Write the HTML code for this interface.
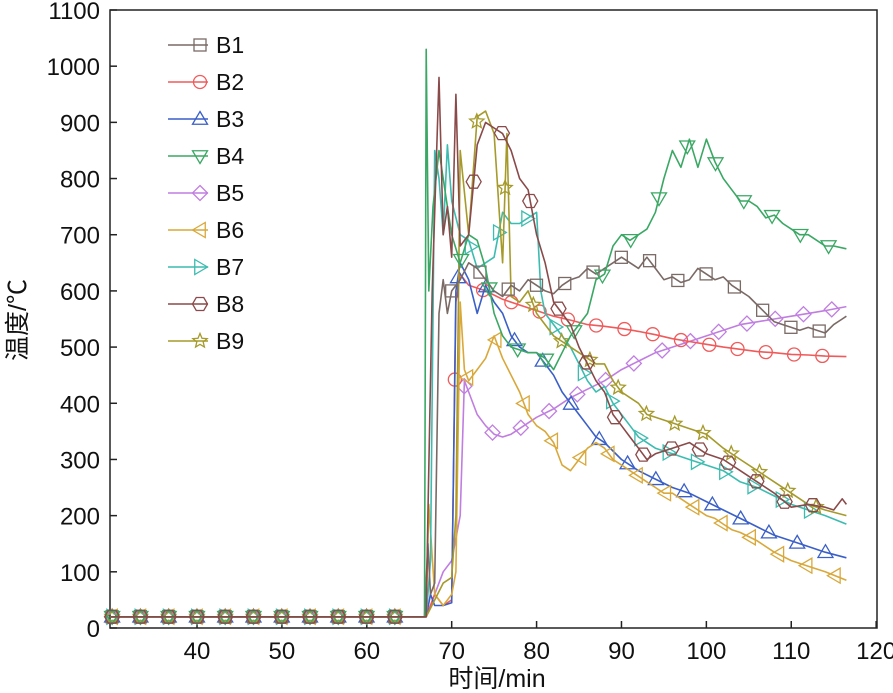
<!DOCTYPE html>
<html><head><meta charset="utf-8"><style>
body{margin:0;background:#fff;}
svg{display:block;font-family:"Liberation Sans","Noto Sans CJK SC",sans-serif;}
</style></head><body>
<svg id="chart" width="893" height="693" viewBox="0 0 893 693"></svg>
<script>
const xTicks=[40,50,60,70,80,90,100,110,120];
const yTicks=[0,100,200,300,400,500,600,700,800,900,1000,1100];
const seriesNames=["B1","B2","B3","B4","B5","B6","B7","B8","B9"];
const seriesColors=["#7a6a66","#f05a5a","#3a5fc8","#3aa864","#c07ee0","#d9a83a","#3cbcb0","#8a4a4a","#a59a2a"];
const seriesMarkers=["square","circle","tri-up","tri-down","diamond","tri-left","tri-right","hexagon","star"];
const preTimes=[29.8,66.8];
const preValues=[20,20];
const b1Times=[67.2,67.5,68,68.5,69,69.5,70,71,72,73,74,75,76,77,78,79,80,81,82,83,84,85,86,87,88,89,90,91,92,93,94,95,96,97,98,99,100,101,102,103,104,105,106,107,108,109,110,111,112,113,114,115,116,116.5];
const b1Values=[150,60,80,560,620,560,600,620,650,640,620,600,590,610,600,620,610,600,595,610,620,625,640,630,640,650,660,650,640,660,640,620,625,615,620,640,630,620,625,610,600,590,575,560,545,540,535,530,535,530,525,540,550,555];
const b2Times=[67,68,69,70,70.5,71,72,74,76,78,80,82,84,86,88,90,92,94,96,98,100,102,104,106,108,110,112,114,116.5];
const b2Values=[20,60,40,50,580,630,610,600,585,575,565,555,548,540,537,533,528,522,515,510,505,500,496,492,490,487,486,484,483];
const b3Times=[67,67.5,68,69,70,70.5,71,72,73,74,75,76,77,78,79,80,81,82,83,84,85,86,87,88,89,90,91,92,94,96,98,100,102,104,106,108,110,112,114,116.5];
const b3Values=[20,60,40,40,45,600,650,620,560,610,580,560,520,500,490,490,470,450,420,400,380,360,340,330,315,300,290,280,265,250,240,225,210,195,180,165,155,145,135,125];
const b4Times=[67,67.3,67.8,68.5,69,69.5,70,71,72,73,74,75,76,77,78,79,80,81,82,83,84,85,86,86.5,87,88,89,90,91,92,93,94,95,96,97,98,99,100,101,102,103,104,105,106,107,108,109,110,111,112,113,114,115,116.5];
const b4Values=[1030,600,750,850,800,750,700,650,700,690,640,560,520,500,495,490,490,480,460,490,520,540,560,590,620,630,680,700,690,700,710,740,800,850,820,870,820,870,830,800,780,760,760,750,730,735,720,710,700,700,690,680,680,675];
const b5Times=[67,69,70,71,71.5,72,73,74,75,76,77,78,79,80,82,84,86,88,90,92,94,96,98,100,102,104,106,108,110,112,114,116.5];
const b5Values=[20,100,120,200,440,420,380,360,345,340,345,355,365,375,390,410,425,440,460,475,490,500,510,520,530,540,545,550,555,560,565,572];
const b6Times=[67,67.3,68,69,70,70.5,71,71.5,72,73,74,75,76,77,78,79,80,81,82,83,84,85,86,87,88,89,90,91,92,93,94,95,96,97,98,99,100,101,102,103,104,106,108,110,112,114,116.5];
const b6Values=[20,220,60,40,60,100,580,460,440,460,480,520,480,450,420,380,360,350,330,290,280,300,320,330,320,300,290,280,270,260,250,240,240,230,220,210,200,195,185,175,170,155,135,120,110,100,85];
const b7Times=[67,67.5,68,68.5,69,69.5,70,71,72,73,74,75,76,77,78,79,80,80.5,81,82,83,84,85,86,87,88,89,90,91,92,93,94,96,98,100,102,104,106,108,110,112,114,116.5];
const b7Values=[20,120,850,800,700,860,760,700,690,640,650,660,740,720,720,730,740,600,560,540,520,500,470,440,420,430,400,380,360,340,330,320,310,300,290,280,260,250,235,220,210,200,185];
const b8Times=[67,67.2,67.7,68.5,69,69.5,70,70.5,71,72,73,74,75,76,77,78,79,80,81,82,83,84,85,86,87,88,89,90,91,92,93,94,96,98,100,102,104,106,108,110,112,114,115,116,116.5];
const b8Values=[20,200,600,980,700,750,660,950,680,700,860,900,890,880,850,800,780,700,650,580,560,540,500,470,440,420,380,360,340,320,300,310,320,330,310,300,280,260,240,215,220,215,210,230,220];
const b9Times=[67,69,70,70.5,71,72,73,74,75,76,76.5,77,78,79,80,81,82,83,84,85,86,87,88,89,90,91,92,93,94,96,98,100,102,104,106,108,110,112,114,116.5];
const b9Values=[20,80,90,200,850,700,910,920,880,650,880,590,580,600,560,540,520,510,500,490,480,470,470,440,420,410,400,380,375,365,355,345,320,300,280,260,240,220,210,200];
const allTimes=[b1Times,b2Times,b3Times,b4Times,b5Times,b6Times,b7Times,b8Times,b9Times];
const allValues=[b1Values,b2Values,b3Values,b4Values,b5Values,b6Values,b7Values,b8Values,b9Values];

const L=110,R=877,T=10,B=628,XMIN=29.75,XMAX=120.1,YMIN=0,YMAX=1100;
const sx=v=>L+(v-XMIN)/(XMAX-XMIN)*(R-L);
const sy=v=>B-(v-YMIN)/(YMAX-YMIN)*(B-T);
const NS="http://www.w3.org/2000/svg";
const svg=document.getElementById('chart');
function mk(tag,attrs,parent){const e=document.createElementNS(NS,tag);for(const k in attrs)e.setAttribute(k,attrs[k]);(parent||svg).appendChild(e);return e;}

const frame=mk('rect',{x:L,y:T,width:R-L,height:B-T,fill:'none',stroke:'#222','stroke-width':1.5});



xTicks.forEach(t=>{
  const ln=mk('line',{x1:sx(t),x2:sx(t),y1:B,y2:B-7,stroke:'#222','stroke-width':1.5});
  
  
  const tx=mk('text',{x:sx(t),y:B+31,'text-anchor':'middle','font-size':24,fill:'#111'});
  tx.textContent=t;
  
  
});
yTicks.forEach(t=>{
  const ln=mk('line',{x1:L,x2:L+7,y1:sy(t),y2:sy(t),stroke:'#222','stroke-width':1.5});
  
  
  const tx=mk('text',{x:L-10,y:sy(t)+9,'text-anchor':'end','font-size':24,fill:'#111'});
  tx.textContent=t;
  
  
});
const xt=mk('text',{x:497,y:687,'text-anchor':'middle','font-size':25,fill:'#111'});
xt.textContent='时间/min';


const yt=mk('text',{x:0,y:0,'text-anchor':'middle','font-size':25,fill:'#111',transform:'translate(26,320) rotate(-90)'});
yt.textContent='温度/℃';



function marker(type,cx,cy,color,parent){
  const r=7.5;let p;
  const st={fill:'none',stroke:color,'stroke-width':1.3};
  if(type==='square')p=mk('rect',Object.assign({x:cx-6,y:cy-6,width:12,height:12},st),parent);
  else if(type==='circle')p=mk('circle',Object.assign({cx:cx,cy:cy,r:6.5},st),parent);
  else{
    let pts;
    if(type==='tri-up')pts=[[0,-r],[r,r*0.7],[-r,r*0.7]];
    else if(type==='tri-down')pts=[[0,r],[r,-r*0.7],[-r,-r*0.7]];
    else if(type==='tri-left')pts=[[-r,0],[r*0.7,-r],[r*0.7,r]];
    else if(type==='tri-right')pts=[[r,0],[-r*0.7,-r],[-r*0.7,r]];
    else if(type==='diamond')pts=[[0,-r],[r,0],[0,r],[-r,0]];
    else if(type==='hexagon')pts=[0,1,2,3,4,5].map(i=>[r*Math.cos(i*Math.PI/3),r*Math.sin(i*Math.PI/3)]);
    else pts=[0,1,2,3,4,5,6,7,8,9].map(i=>{const rr=i%2?r*0.45:r;const a=-Math.PI/2+i*Math.PI/5;return [rr*Math.cos(a),rr*Math.sin(a)];});
    p=mk('polygon',Object.assign({points:pts.map(q=>(cx+q[0])+','+(cy+q[1])).join(' ')},st),parent);
  }
  
  
}
function interp(ts,vs,t){
  if(t<=ts[0])return vs[0];
  for(let i=1;i<ts.length;i++)if(t<=ts[i]){const f=(t-ts[i-1])/(ts[i]-ts[i-1]);return vs[i-1]+f*(vs[i]-vs[i-1]);}
  return vs[vs.length-1];
}
const order=[4,1,2,5,6,8,0,3,7];
order.forEach(i=>{
  const g=mk('g',{});
  
  
  const ts=preTimes.concat(allTimes[i]);
  const vs=preValues.concat(allValues[i]);
  const d=ts.map((t,k)=>(k?'L':'M')+sx(t).toFixed(1)+','+sy(vs[k]).toFixed(1)).join(' ');
  const path=mk('path',{d:d,fill:'none',stroke:seriesColors[i],'stroke-width':1.6,'stroke-linejoin':'round'},g);
  
  
  for(let t=30;t<=63.5;t+=3.33)marker(seriesMarkers[i],sx(t),sy(interp(ts,vs,t)),seriesColors[i],g);
  const off=(i*0.37)%3.33;
  const last=ts[ts.length-1];
  for(let t=70+off;t<=last-1;t+=3.33)marker(seriesMarkers[i],sx(t),sy(interp(ts,vs,t)),seriesColors[i],g);
});

seriesNames.forEach((n,i)=>{
  const y=45+i*37;
  const g=mk('g',{});
  
  
  mk('line',{x1:168,x2:208,y1:y,y2:y,stroke:seriesColors[i],'stroke-width':1.6},g);
  marker(seriesMarkers[i],200,y,seriesColors[i],g);
  const tx=mk('text',{x:216,y:y+8,'font-size':23,fill:'#111'},g);
  tx.textContent=n;
  
  
});
</script>
</body></html>
